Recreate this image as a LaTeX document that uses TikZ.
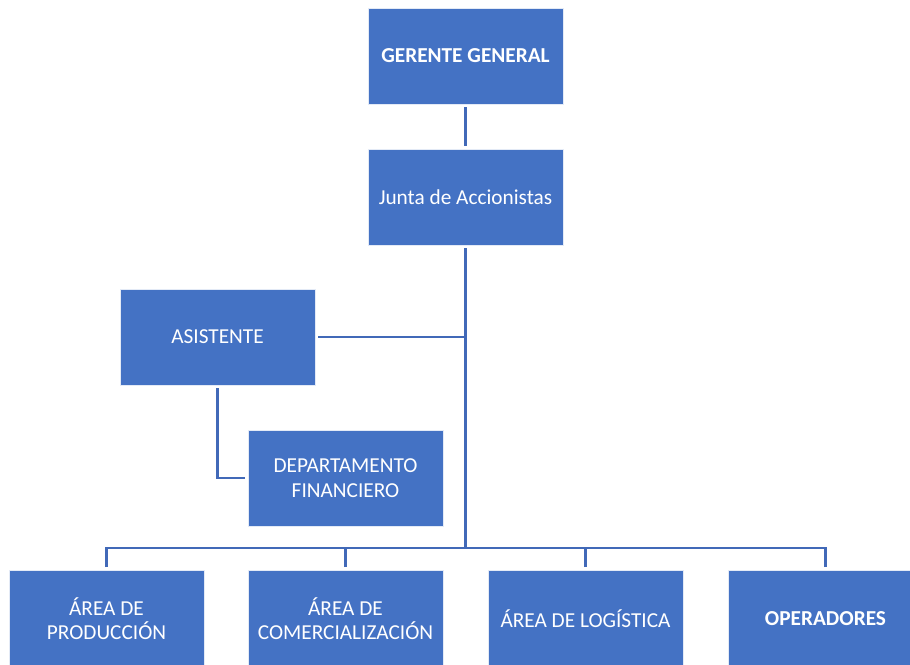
\documentclass[tikz,border=0pt]{standalone}
\usepackage{fontspec}
\setmainfont{Carlito}
\definecolor{boxblue}{HTML}{4472C4}
\definecolor{lineblue}{HTML}{4169B8}
\begin{document}
\begin{tikzpicture}[x=1pt,y=-1pt,
  box/.style={rectangle, fill=boxblue, draw=white!85!boxblue, line width=0.6pt,
    minimum width=195pt, minimum height=96pt, inner sep=2pt,
    text=white, align=center, font=\fontsize{21.3}{24.5}\selectfont},
  boldbox/.style={box, font=\fontsize{21.3}{24.5}\selectfont\bfseries},
  conn/.style={draw=lineblue, line width=2.6pt, shorten <=3pt}]
\clip (0,0) rectangle (910,664);
\fill[white] (0,0) rectangle (910,664);
\node[boldbox] (GG) at (465.5,56) {GERENTE GENERAL};
\node[box] (JA) at (465.5,197) {Junta de Accionistas};
\node[box] (AS) at (217.5,337) {ASISTENTE};
\node[box] (DF) at (345.5,478) {DEPARTAMENTO\\FINANCIERO};
\node[box] (PR) at (106.5,618.5) {ÁREA DE\\PRODUCCIÓN};
\node[box] (CO) at (345.5,618.5) {ÁREA DE\\COMERCIALIZACIÓN};
\node[box] (LO) at (585.5,618.5) {ÁREA DE LOGÍSTICA};
\node[boldbox] (OP) at (825.5,618.5) {OPERADORES};
\coordinate (bus) at (465.5,548);
\draw[conn, shorten >=3pt] (GG.south) -- (JA.north);
\draw[conn] (JA.south) -- (bus);
\draw[conn, shorten >=0pt] (AS.east) -- (AS.east -| bus);
\draw[conn, shorten >=3pt] (AS.south) |- (DF.west);
\draw[conn] (PR.north) |- (bus);
\draw[conn] (OP.north) |- (bus);
\draw[conn] (CO.north) -- (CO.north |- bus);
\draw[conn] (LO.north) -- (LO.north |- bus);
\end{tikzpicture}
\end{document}
